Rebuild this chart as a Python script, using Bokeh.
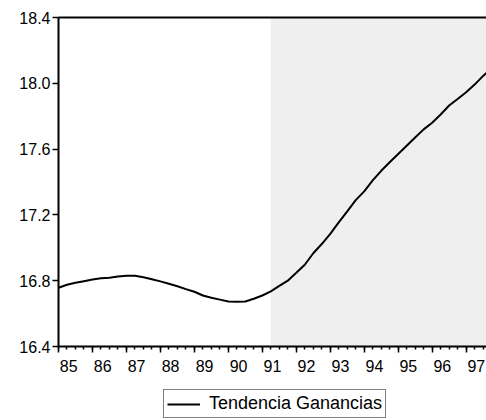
from bokeh.plotting import figure
from bokeh.layouts import column
from bokeh.models import (Range1d, LinearAxis, FixedTicker, BoxAnnotation, Legend,
                          LegendItem, PrintfTickFormatter)
from bokeh.embed import file_html
from bokeh.resources import INLINE

FONT = "Liberation Sans"

# quarterly trend, 1985Q1 .. 1997Q4
first_year = 85
trend = [
    16.757, 16.775, 16.787, 16.797,
    16.807, 16.815, 16.818, 16.826,
    16.830, 16.830, 16.821, 16.809,
    16.796, 16.781, 16.766, 16.749,
    16.733, 16.710, 16.696, 16.685,
    16.674, 16.672, 16.674, 16.690,
    16.710, 16.735, 16.768, 16.800,
    16.848, 16.897, 16.967, 17.023,
    17.085, 17.155, 17.222, 17.290,
    17.343, 17.410, 17.468, 17.520,
    17.570, 17.620, 17.670, 17.720,
    17.760, 17.810, 17.865, 17.905,
    17.946, 17.992, 18.045, 18.090,
]
periods = [first_year + i / 4 for i in range(len(trend))]

year_ticks = list(range(85, 98))
y_ticks = [16.4, 16.8, 17.2, 17.6, 18.0, 18.4]
shade_start = 91.25  # forecast period 1991Q2 onwards
series_name = "Tendencia Ganancias"

p = figure(width=486, height=384, output_backend="svg", toolbar_location=None,
           x_range=Range1d(85, 97.6), y_range=Range1d(16.4, 18.4),
           min_border_left=58, min_border_right=0, min_border_top=17,
           min_border_bottom=38, outline_line_color=None,
           background_fill_color="white", border_fill_color="white")
p.grid.visible = False

# shaded area
p.add_layout(BoxAnnotation(left=shade_start, fill_color="#efefef", fill_alpha=1,
                           line_color=None, level="underlay"))

p.line(periods, trend, line_color="black", line_width=2)

# y axis
yax = p.yaxis[0]
yax.ticker = FixedTicker(ticks=y_ticks, minor_ticks=[])
yax.formatter = PrintfTickFormatter(format="%.1f")
yax.axis_line_width = 2
yax.major_tick_out = 6
yax.major_tick_in = 0
yax.major_tick_line_width = 1.5
yax.major_label_standoff = 2
yax.major_label_text_font = FONT
yax.major_label_text_font_size = "16px"
yax.major_label_text_color = "black"

# x axis: tick marks only
xax = p.xaxis[0]
xax.ticker = FixedTicker(ticks=year_ticks, minor_ticks=periods)
xax.major_label_overrides = {y: "" for y in year_ticks}
xax.axis_line_width = 2
xax.major_tick_out = 6
xax.major_tick_in = 0
xax.minor_tick_out = 3
xax.minor_tick_in = 0
xax.major_tick_line_width = 1.5
xax.minor_tick_line_width = 1.5
xax.major_label_text_font_size = "1px"
xax.major_label_standoff = 0

# x axis: year labels, drawn a little right of the year tick
label_pos = [round(y + 0.3, 2) for y in year_ticks]
lab = LinearAxis(ticker=FixedTicker(ticks=label_pos, minor_ticks=[]),
                 major_label_overrides={pos: str(y) for pos, y in zip(label_pos, year_ticks)},
                 axis_line_color=None, major_tick_line_color=None,
                 minor_tick_line_color=None, major_tick_out=0, major_tick_in=0,
                 minor_tick_out=0, minor_tick_in=0,
                 major_label_standoff=7, major_label_text_font=FONT,
                 major_label_text_font_size="16px", major_label_text_color="black")
p.add_layout(lab, "below")

# top border line
top = LinearAxis(ticker=FixedTicker(ticks=[], minor_ticks=[]), axis_line_width=2,
                 major_tick_out=0, major_tick_in=0, minor_tick_out=0, minor_tick_in=0,
                 major_label_text_font_size="1px", major_label_standoff=0)
p.add_layout(top, "above")

# legend strip under the chart (its frame lines up with the chart frame)
leg = figure(width=486, height=36, output_backend="svg", toolbar_location=None,
             x_range=Range1d(0, 1), y_range=Range1d(0, 1), outline_line_color=None,
             x_axis_type=None, y_axis_type=None,
             min_border=0, border_fill_color="white", background_fill_color="white")
leg.grid.visible = False
# key line kept outside the visible range, only its legend swatch shows
key = leg.line([2, 3], [2, 3], line_color="black", line_width=2)
legend = Legend(items=[LegendItem(label=series_name, renderers=[key])],
                location=(105, 2), orientation="horizontal",
                border_line_color="black", border_line_width=1.5,
                background_fill_color="white", background_fill_alpha=1,
                label_text_font=FONT, label_text_font_size="18px",
                label_text_color="black", glyph_width=33, glyph_height=16,
                label_height=16, label_standoff=9, padding=3, margin=0, spacing=0)
leg.add_layout(legend)

open("out.html", "w").write(file_html(column(p, leg, spacing=0), INLINE))
